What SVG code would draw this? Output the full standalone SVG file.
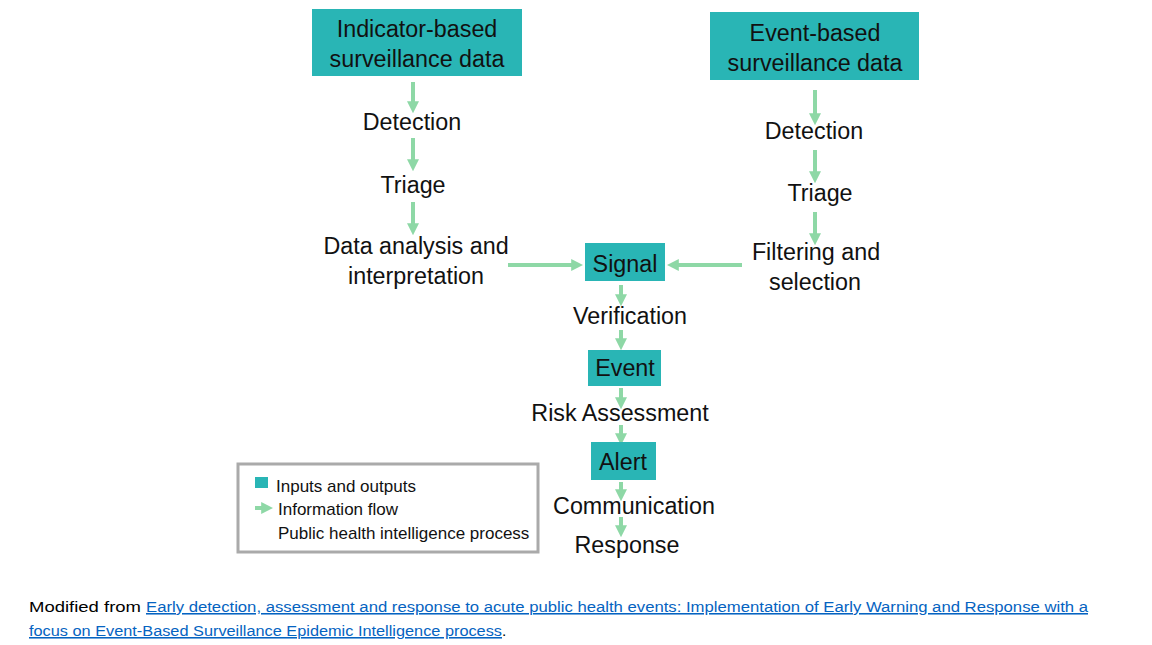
<svg xmlns="http://www.w3.org/2000/svg" width="1152" height="645" viewBox="0 0 1152 645">
<style>
.box{fill:#29B5B5}
.t{font-family:"Liberation Sans",Arial,sans-serif;font-size:23.3px;fill:#111;text-anchor:middle}
.lg{font-family:"Liberation Sans",Arial,sans-serif;font-size:17px;fill:#111}
.ft{font-family:"Liberation Sans",Arial,sans-serif;font-size:15.5px;fill:#000}
.lk{fill:#0563C1;text-decoration:underline}
.fl{stroke:#8ED8A6;stroke-width:4;fill:none;marker-end:url(#ah)}
</style>
<defs>
<marker id="ah" viewBox="0 0 10 10" refX="4" refY="5" markerWidth="3" markerHeight="3" orient="auto" markerUnits="strokeWidth">
<path d="M0,0 L10,5 L0,10 z" fill="#8ED8A6"/>
</marker>
</defs>
<rect width="1152" height="645" fill="#fff"/>
<g id="connectors">
<line class="fl" x1="413" y1="82" x2="413" y2="106"/>
<line class="fl" x1="413" y1="138" x2="413" y2="164"/>
<line class="fl" x1="413" y1="202" x2="413" y2="228"/>
<line class="fl" x1="815" y1="90" x2="815" y2="118"/>
<line class="fl" x1="815" y1="150" x2="815" y2="176"/>
<line class="fl" x1="815" y1="212" x2="815" y2="238"/>
<line class="fl" x1="508" y1="265" x2="576" y2="265"/>
<line class="fl" x1="742" y1="265" x2="674" y2="265"/>
<line class="fl" x1="621" y1="285" x2="621" y2="299"/>
<line class="fl" x1="621" y1="330" x2="621" y2="343"/>
<line class="fl" x1="621" y1="388" x2="621" y2="402"/>
<line class="fl" x1="621" y1="425" x2="621" y2="438"/>
<line class="fl" x1="621" y1="482" x2="621" y2="494"/>
<line class="fl" x1="621" y1="517" x2="621" y2="530"/>
</g>
<g id="indicator-data">
<rect class="box" x="312" y="9" width="210" height="67"/>
<text class="t" x="417" y="37">Indicator-based</text>
<text class="t" x="417" y="67">surveillance data</text>
</g>
<g id="event-data">
<rect class="box" x="710" y="12" width="209" height="68"/>
<text class="t" x="815" y="41">Event-based</text>
<text class="t" x="815" y="71">surveillance data</text>
</g>
<g id="detection-left"><text class="t" x="412" y="130">Detection</text></g>
<g id="triage-left"><text class="t" x="413" y="193">Triage</text></g>
<g id="analysis">
<text class="t" x="416" y="254">Data analysis and</text>
<text class="t" x="416" y="284">interpretation</text>
</g>
<g id="detection-right"><text class="t" x="814" y="139">Detection</text></g>
<g id="triage-right"><text class="t" x="820" y="201">Triage</text></g>
<g id="filtering">
<text class="t" x="816" y="260">Filtering and</text>
<text class="t" x="815" y="290">selection</text>
</g>
<g id="signal">
<rect class="box" x="585" y="243" width="80" height="38"/>
<text class="t" x="625" y="272">Signal</text>
</g>
<g id="verification"><text class="t" x="630" y="324">Verification</text></g>
<g id="event">
<rect class="box" x="588" y="350" width="73" height="36"/>
<text class="t" x="625" y="376">Event</text>
</g>
<g id="risk"><text class="t" x="620" y="421">Risk Assessment</text></g>
<g id="alert">
<rect class="box" x="591" y="442" width="65" height="38"/>
<text class="t" x="623" y="470">Alert</text>
</g>
<g id="communication"><text class="t" x="634" y="514">Communication</text></g>
<g id="response"><text class="t" x="627" y="553">Response</text></g>
<g id="legend">
<rect x="238" y="464" width="300" height="88" fill="#fff" stroke="#AAAAAA" stroke-width="3"/>
<rect class="box" x="255" y="477" width="13" height="11"/>
<text class="lg" x="276" y="492">Inputs and outputs</text>
<line x1="255" y1="508" x2="266" y2="508" stroke="#8ED8A6" stroke-width="4" marker-end="url(#ah)"/>
<text class="lg" x="278" y="515">Information flow</text>
<text class="lg" x="278" y="539">Public health intelligence process</text>
</g>
<g id="footer">
<text class="ft" x="29" y="612" textLength="112" lengthAdjust="spacingAndGlyphs">Modified from</text>
<text class="ft lk" x="146" y="612" textLength="942" lengthAdjust="spacingAndGlyphs">Early detection, assessment and response to acute public health events: Implementation of Early Warning and Response with a</text>
<text class="ft" x="29" y="636"><tspan class="lk" textLength="473" lengthAdjust="spacingAndGlyphs">focus on Event-Based Surveillance Epidemic Intelligence process</tspan>.</text>
</g>
</svg>
